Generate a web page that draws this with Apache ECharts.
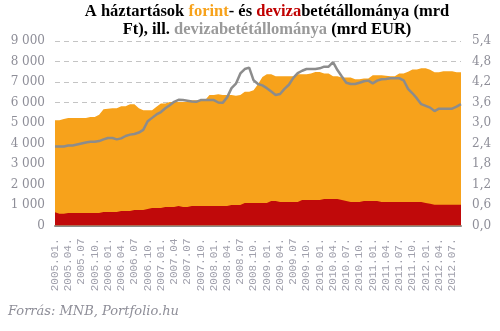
<!DOCTYPE html>
<html>
<head>
<meta charset="utf-8">
<script src="https://cdn.jsdelivr.net/npm/echarts@6/dist/echarts.min.js"></script>
<style>
html,body{margin:0;padding:0;background:#fff;}
#c{width:500px;height:331px;}
</style>
</head>
<body>
<div id="c"></div>
<script>
// Monthly categories 2005.01 - 2012.09
const categories = [
 "2005.01.","2005.02.","2005.03.","2005.04.","2005.05.","2005.06.","2005.07.","2005.08.","2005.09.","2005.10.","2005.11.","2005.12.",
 "2006.01.","2006.02.","2006.03.","2006.04.","2006.05.","2006.06.","2006.07.","2006.08.","2006.09.","2006.10.","2006.11.","2006.12.",
 "2007.01.","2007.02.","2007.03.","2007.04.","2007.05.","2007.06.","2007.07.","2007.08.","2007.09.","2007.10.","2007.11.","2007.12.",
 "2008.01.","2008.02.","2008.03.","2008.04.","2008.05.","2008.06.","2008.07.","2008.08.","2008.09.","2008.10.","2008.11.","2008.12.",
 "2009.01.","2009.02.","2009.03.","2009.04.","2009.05.","2009.06.","2009.07.","2009.08.","2009.09.","2009.10.","2009.11.","2009.12.",
 "2010.01.","2010.02.","2010.03.","2010.04.","2010.05.","2010.06.","2010.07.","2010.08.","2010.09.","2010.10.","2010.11.","2010.12.",
 "2011.01.","2011.02.","2011.03.","2011.04.","2011.05.","2011.06.","2011.07.","2011.08.","2011.09.","2011.10.","2011.11.","2011.12.",
 "2012.01.","2012.02.","2012.03.","2012.04.","2012.05.","2012.06.","2012.07.","2012.08.","2012.09."
];
// Tick labels shown (every 3rd month), as printed in the reference
const tickLabels = [
 "2005.01.","2005.04.","2005.07","2005.10.","2006.01.","2006.04.","2006.07","2006.10.",
 "2007.01.","2007.04","2007.07","2007.10.","2008.01.","2008.04.","2008.07","2008.10.",
 "2009.01.","2009.04.","2009.07","2009.10.","2010.01.","2010.04.","2010.07.","2010.10.",
 "2011.01.","2011.04.","2011.07.","2011.10.","2012.01.","2012.04.","2012.07."
];
// Total household deposits (forint + deviza), mrd Ft — top of orange area
const totalDeposits = [
 5140,5140,5190,5240,5240,5240,5240,5240,5290,5290,5400,5670,
 5700,5720,5720,5820,5820,5920,5920,5720,5620,5620,5620,5790,
 5950,5950,6030,6030,6030,6030,6030,6110,6110,6110,6110,6360,
 6360,6400,6360,6360,6360,6330,6360,6520,6520,6600,6890,7250,
 7380,7380,7280,7280,7280,7280,7280,7380,7380,7380,7415,7490,
 7490,7415,7415,7280,7280,7220,7220,7220,7140,7140,7170,7170,
 7330,7330,7330,7300,7280,7280,7415,7415,7500,7610,7610,7670,
 7670,7600,7480,7480,7530,7530,7530,7480,7480
];
// Deviza deposits, mrd Ft — red area
const devizaHUF = [
 650,570,570,610,610,610,610,610,610,610,610,660,
 660,660,660,710,710,710,760,760,760,800,850,850,
 850,900,900,900,950,900,900,950,950,950,950,950,
 950,950,950,950,1000,1000,1000,1100,1100,1100,1100,1100,
 1100,1195,1195,1150,1150,1150,1150,1150,1245,1245,1245,1245,
 1245,1290,1290,1290,1290,1245,1195,1150,1150,1150,1195,1195,
 1195,1195,1150,1150,1150,1150,1150,1150,1150,1150,1150,1150,
 1100,1060,1015,1015,1015,1015,1015,1015,1015
];
// Deviza deposits, mrd EUR — grey line (right axis)
const devizaEUR = [
 2.31,2.31,2.31,2.34,2.34,2.37,2.40,2.43,2.45,2.45,2.47,2.52,
 2.56,2.56,2.52,2.55,2.62,2.66,2.68,2.72,2.80,3.05,3.15,3.25,
 3.32,3.43,3.52,3.62,3.68,3.67,3.65,3.63,3.62,3.67,3.67,3.67,
 3.67,3.60,3.59,3.75,4.02,4.15,4.45,4.58,4.62,4.25,4.14,4.10,
 4.02,3.92,3.82,3.85,4.00,4.12,4.32,4.46,4.53,4.58,4.58,4.58,
 4.60,4.65,4.65,4.78,4.55,4.36,4.18,4.14,4.14,4.18,4.22,4.24,
 4.16,4.24,4.28,4.29,4.31,4.31,4.31,4.25,4.00,3.87,3.72,3.55,
 3.50,3.45,3.35,3.42,3.42,3.42,3.42,3.48,3.55
];

const chart = echarts.init(document.getElementById('c'), null, {renderer:'canvas'});
const grey = '#8e8e98';
const tf = 'bold 16.5px "Liberation Serif"';
chart.setOption({
  animation:false,
  backgroundColor:'#fff',
  graphic:[
    {type:'text', x:267, y:3,
     style:{
       text:'A háztartások {o|forint}- és {r|deviza}betétállománya (mrd\n{b|Ft), ill. }{g|devizabetétállománya}{b| (mrd EUR)}',
       font:tf, fill:'#000', align:'center', verticalAlign:'top', lineHeight:18,
       rich:{
         o:{fill:'#F7A21B', font:tf, lineHeight:18},
         r:{fill:'#C00000', font:tf, lineHeight:18},
         g:{fill:'#9a9a9a', font:tf, lineHeight:18},
         b:{fill:'#000', font:tf, lineHeight:18}
       }
     }},
    {type:'text', left:8, top:305,
     style:{text:'Forrás: MNB, Portfolio.hu', font:'italic 13px "DejaVu Serif"', fill:grey}}
  ],
  grid:{left:55, right:39, top:41, bottom:105.5, containLabel:false},
  xAxis:{
    type:'category', data:categories, boundaryGap:false,
    axisLine:{show:true, lineStyle:{color:'#8a8a8a', width:2}},
    axisTick:{show:false},
    axisLabel:{
      interval:2, rotate:90, margin:13,
      color:'#a0a0ac', fontFamily:'Liberation Mono', fontSize:11,
      formatter:(v,i)=> tickLabels[Math.round(i/3)] || v
    },
    splitLine:{show:false}
  },
  yAxis:[
    {type:'value', min:0, max:9000, interval:1000,
     axisLine:{show:false}, axisTick:{show:false},
     axisLabel:{margin:10, color:grey, fontFamily:'DejaVu Serif', fontSize:12,
       formatter:v=> v>=1000 ? Math.floor(v/1000)+' '+String(v%1000).padStart(3,'0') : String(v)},
     splitLine:{show:true, lineStyle:{color:'#c4c4c4', type:[5,4], width:1}}
    },
    {type:'value', min:0, max:5.4, interval:0.6,
     axisLine:{show:false}, axisTick:{show:false},
     axisLabel:{margin:11, color:grey, fontFamily:'DejaVu Serif', fontSize:12,
       formatter:v=> v.toFixed(1).replace('.',',')},
     splitLine:{show:false}
    }
  ],
  series:[
    {name:'forint', type:'line', data:totalDeposits, symbol:'none',
     lineStyle:{width:0}, areaStyle:{color:'#F7A21B', opacity:1}, z:2},
    {name:'deviza', type:'line', data:devizaHUF, symbol:'none',
     lineStyle:{width:0}, areaStyle:{color:'#C0090A', opacity:1}, z:3},
    {name:'deviza EUR', type:'line', data:devizaEUR, yAxisIndex:1, symbol:'none',
     lineStyle:{width:2.5, color:'#8c8c8c'}, z:4}
  ]
});
</script>
</body>
</html>
